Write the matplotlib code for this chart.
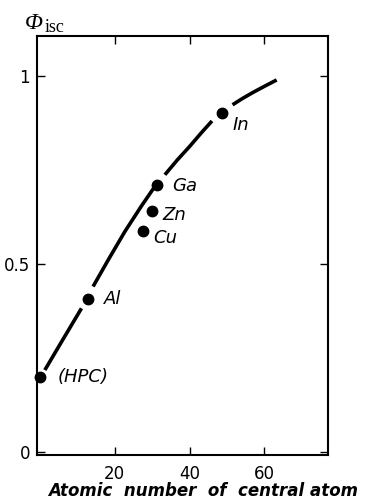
import numpy as np
import matplotlib
matplotlib.use("Agg")
import matplotlib.pyplot as plt

# measured points (atomic number of central atom, quantum yield)
labels = ["(HPC)", "Al", "Cu", "Zn", "Ga", "In"]
atomic_no = [0, 12.9, 27.6, 29.9, 31.2, 48.6]
phi_isc = [0.200, 0.406, 0.588, 0.642, 0.710, 0.900]

# drawn curve (it is broken at the dots)
curve_x = [
    [1.3, 6.0, 11.1],
    [14.2, 18.5, 22.7, 27.0, 31.0],
    [33.4, 36.7, 40.0, 43.2, 46.0],
    [51.5, 54.2, 57.0, 60.2, 63.3],
]
curve_y = [
    [0.218, 0.297, 0.382],
    [0.440, 0.515, 0.586, 0.652, 0.710],
    [0.737, 0.776, 0.812, 0.849, 0.880],
    [0.923, 0.940, 0.956, 0.973, 0.989],
]

xticks = [20, 40, 60]
yticks = [0, 0.5, 1]
ytick_labels = ["0", "0.5", "1"]

# label offsets in points (dx, dy)
offsets = [(13, 0), (11, 0), (7, -5), (8, -3), (11, -1), (8, -8)]

plt.rcParams["font.family"] = ["DejaVu Sans"]

fig = plt.figure(figsize=(3.68, 4.99), dpi=100)
ax = fig.add_axes([0.1005, 0.088, 0.7905, 0.840])

for cx, cy in zip(curve_x, curve_y):
    ax.plot(cx, cy, color="black", lw=2.6, solid_capstyle="butt")

ax.plot(atomic_no, phi_isc, "o", color="black", ms=7.5, clip_on=False, zorder=3)

for lab, x, y, (dx, dy) in zip(labels, atomic_no, phi_isc, offsets):
    ax.annotate(lab, (x, y), xytext=(dx, dy), textcoords="offset points",
                ha="left", va="center", fontsize=13, style="italic")

ax.set_xlim(-0.8, 77)
ax.set_ylim(-0.008, 1.106)
ax.set_xticks(xticks)
ax.set_xticklabels([str(t) for t in xticks], fontsize=12)
ax.set_yticks(yticks)
ax.set_yticklabels(ytick_labels, fontsize=12)
ax.tick_params(direction="in", length=6, width=1, top=True, right=True, pad=5)
ax.tick_params(axis="x", pad=7)
for s in ax.spines.values():
    s.set_linewidth(1.5)

# y axis title: italic Phi with roman subscript
fig.text(25 / 368, 1 - 29 / 499, "Φ", fontsize=17, family="Liberation Serif",
         style="italic", ha="left", va="baseline")
fig.text(45 / 368, 1 - 32 / 499, "isc", fontsize=13, family="Liberation Serif",
         ha="left", va="baseline")

fig.text(0.551, 1 - 491 / 499, "Atomic  number  of  central atom", fontsize=12,
         style="italic", weight="bold", ha="center", va="center")

fig.savefig("out.png", dpi=100)
